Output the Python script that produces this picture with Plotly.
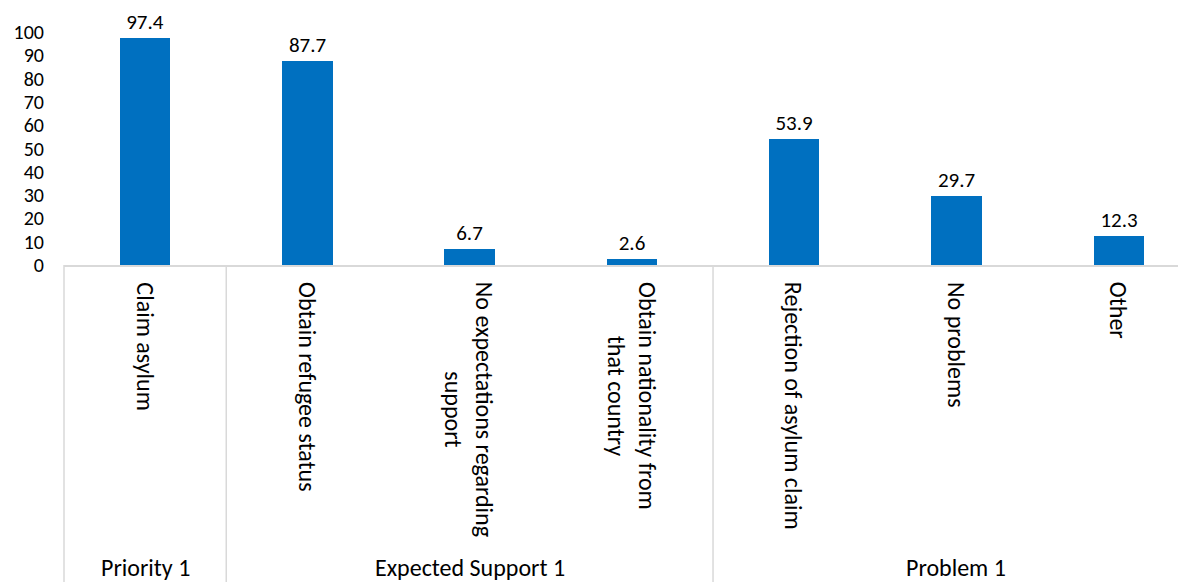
import plotly.graph_objects as go

categories = [
    "Claim asylum",
    "Obtain refugee status",
    "No expectations regarding<br>support",
    "Obtain nationality from<br>that country",
    "Rejection of asylum claim",
    "No problems",
    "Other",
]
values = [97.4, 87.7, 6.7, 2.6, 53.9, 29.7, 12.3]
groups = ["Priority 1", "Expected Support 1", "Problem 1"]
group_sizes = [1, 3, 3]
y_ticks = [0, 10, 20, 30, 40, 50, 60, 70, 80, 90, 100]

FONT = "Carlito, Lato, sans-serif"
BAR = "#0070C0"
LINE = "#d9d9d9"

x_idx = list(range(len(categories)))
x_range = [-0.5, 6.415]
span = x_range[1] - x_range[0]

fig = go.Figure(
    go.Bar(
        x=x_idx,
        y=values,
        width=0.31,
        marker=dict(color=BAR, line=dict(width=0)),
        text=[f"{v}" for v in values],
        textposition="outside",
        textfont=dict(family=FONT, size=21, color="#000"),
        cliponaxis=False,
    )
)

annotations = []
for i, c in enumerate(categories):
    annotations.append(dict(
        x=i, xref="x", y=0, yref="paper", yshift=-15,
        text=c, textangle=90, showarrow=False,
        xanchor="center", yanchor="top", align="center",
        font=dict(family=FONT, size=24, color="#000"),
    ))

shapes = []
start = 0
bounds = [-0.5]
for g, n in zip(groups, group_sizes):
    mid = start + (n - 1) / 2
    annotations.append(dict(
        x=mid, xref="x", y=0, yref="paper", yshift=-302,
        text=g, showarrow=False, xanchor="center", yanchor="middle",
        font=dict(family=FONT, size=24, color="#000"),
    ))
    start += n
    bounds.append(start - 0.5)

for b in bounds:
    px = (b - x_range[0]) / span
    if px <= 1.0:
        shapes.append(dict(
            type="line", xref="paper", yref="paper",
            x0=px, x1=px, y0=0, y1=-1.4,
            line=dict(color=LINE, width=1.5),
        ))

fig.update_layout(
    width=1178, height=574,
    margin=dict(l=56, r=0, t=24, b=317),
    paper_bgcolor="white", plot_bgcolor="white",
    showlegend=False,
    bargap=0,
    xaxis=dict(
        range=x_range, showticklabels=False, showgrid=False, zeroline=False,
        showline=True, linecolor=LINE, linewidth=2, ticks="",
        tickvals=x_idx,
    ),
    yaxis=dict(
        range=[0, 100], tickvals=y_ticks, showgrid=False, zeroline=False,
        showline=False, ticks="", ticklabelstandoff=19,
        tickfont=dict(family=FONT, size=20, color="#000"),
    ),
    annotations=annotations,
    shapes=shapes,
)

fig.write_html("out.html")
